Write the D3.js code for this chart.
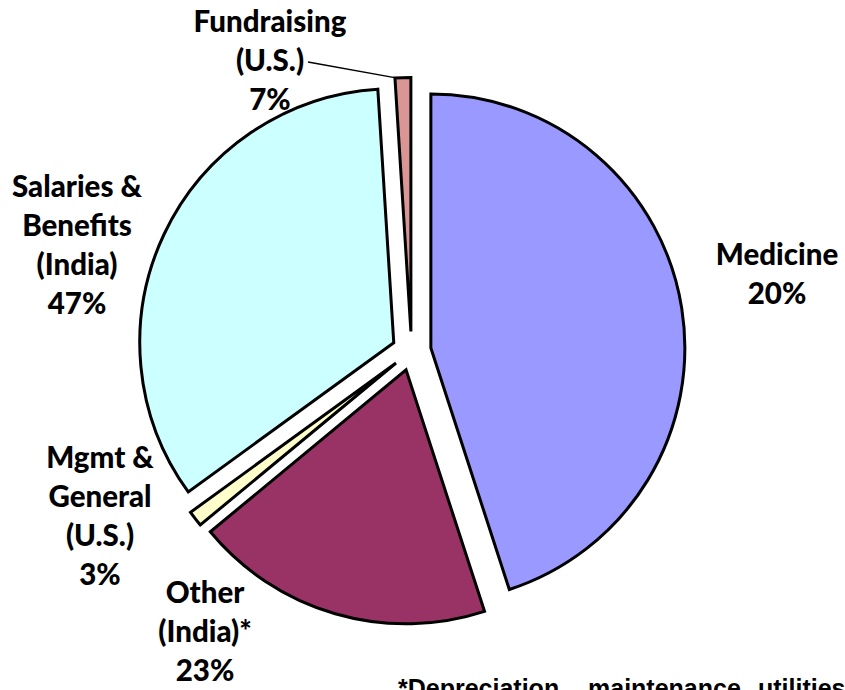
<!DOCTYPE html>
<html>
<head>
<meta charset="utf-8">
<script src="https://cdn.jsdelivr.net/npm/d3@7/dist/d3.min.js"></script>
<style>
  body{margin:0;background:#fff;}
  svg{display:block;}
  .lbl{font-family:Lato,"Open Sans",sans-serif;font-weight:900;font-size:29.5px;fill:#000;}
  .note{font-family:"Liberation Sans",Arial,sans-serif;font-weight:bold;font-size:25px;fill:#000;}
</style>
</head>
<body>
<script>
// slices as drawn (share of the circle, %)
const categories=["Medicine","Other (India)*","Mgmt & General (U.S.)","Salaries & Benefits (India)","Fundraising (U.S.)"]
const values=[45,19,1,34,1]
// percentages printed in the labels
const pctLabels=["20%","23%","3%","47%","7%"]
const labelLines=[["Medicine"],["Other","(India)*"],["Mgmt &","General","(U.S.)"],["Salaries &","Benefits","(India)"],["Fundraising","(U.S.)"]]
const colors=["#9999ff","#993366","#ffffcc","#ccffff","#da9694"]
const noteWords=["*Depreciation,","maintenance,","utilities,"]

document.addEventListener('DOMContentLoaded',()=>{
    const w=845, h=690
    const cx=411.5, cy=351, r=254, explode=19.6

    const svg=d3.select("body").append("svg")
        .attr("width",w).attr("height",h)

    const pie=d3.pie().sort(null).value(d=>d)
    const arc=d3.arc().innerRadius(0).outerRadius(r)
    const arcs=pie(values)

    const g=svg.append("g").attr("transform","translate("+cx+","+cy+")")

    g.selectAll("path")
        .data(arcs)
        .enter()
        .append("path")
        .attr("d",arc)
        .attr("transform",d=>{
            const a=(d.startAngle+d.endAngle)/2
            return "translate("+(explode*Math.sin(a))+","+(-explode*Math.cos(a))+")"
        })
        .attr("fill",(d,i)=>colors[i])
        .attr("stroke","#000")
        .attr("stroke-width",3)
        .attr("stroke-linejoin","miter")

    // label anchors (centre x, first baseline)
    const labelPos=[[777,265],[205,603],[100,468],[77,197],[270,32]]
    const lineH=39

    labelPos.forEach((p,i)=>{
        const lines=labelLines[i].concat([pctLabels[i]])
        const t=svg.append("text").attr("class","lbl")
            .attr("text-anchor","middle")
        lines.forEach((s,k)=>{
            t.append("tspan").attr("x",p[0]).attr("y",p[1]+k*lineH).text(s)
        })
    })

    // leader line for the fundraising slice
    const fd=arcs[4]
    const fa=(fd.startAngle+fd.endAngle)/2
    const ea=fd.startAngle+0.004
    const ex=cx+explode*Math.sin(fa)+r*Math.sin(ea)
    const ey=cy-explode*Math.cos(fa)-r*Math.cos(ea)
    svg.append("line")
        .attr("x1",308).attr("y1",62)
        .attr("x2",ex).attr("y2",ey)
        .attr("stroke","#000").attr("stroke-width",1.3)

    // footnote (cut off at the bottom edge, as in the original)
    const noteX=[398,588,758]
    const note=svg.append("text").attr("class","note")
    noteWords.forEach((s,k)=>{
        note.append("tspan").attr("x",noteX[k]).attr("y",697).text(s)
    })
})
</script>
</body>
</html>
